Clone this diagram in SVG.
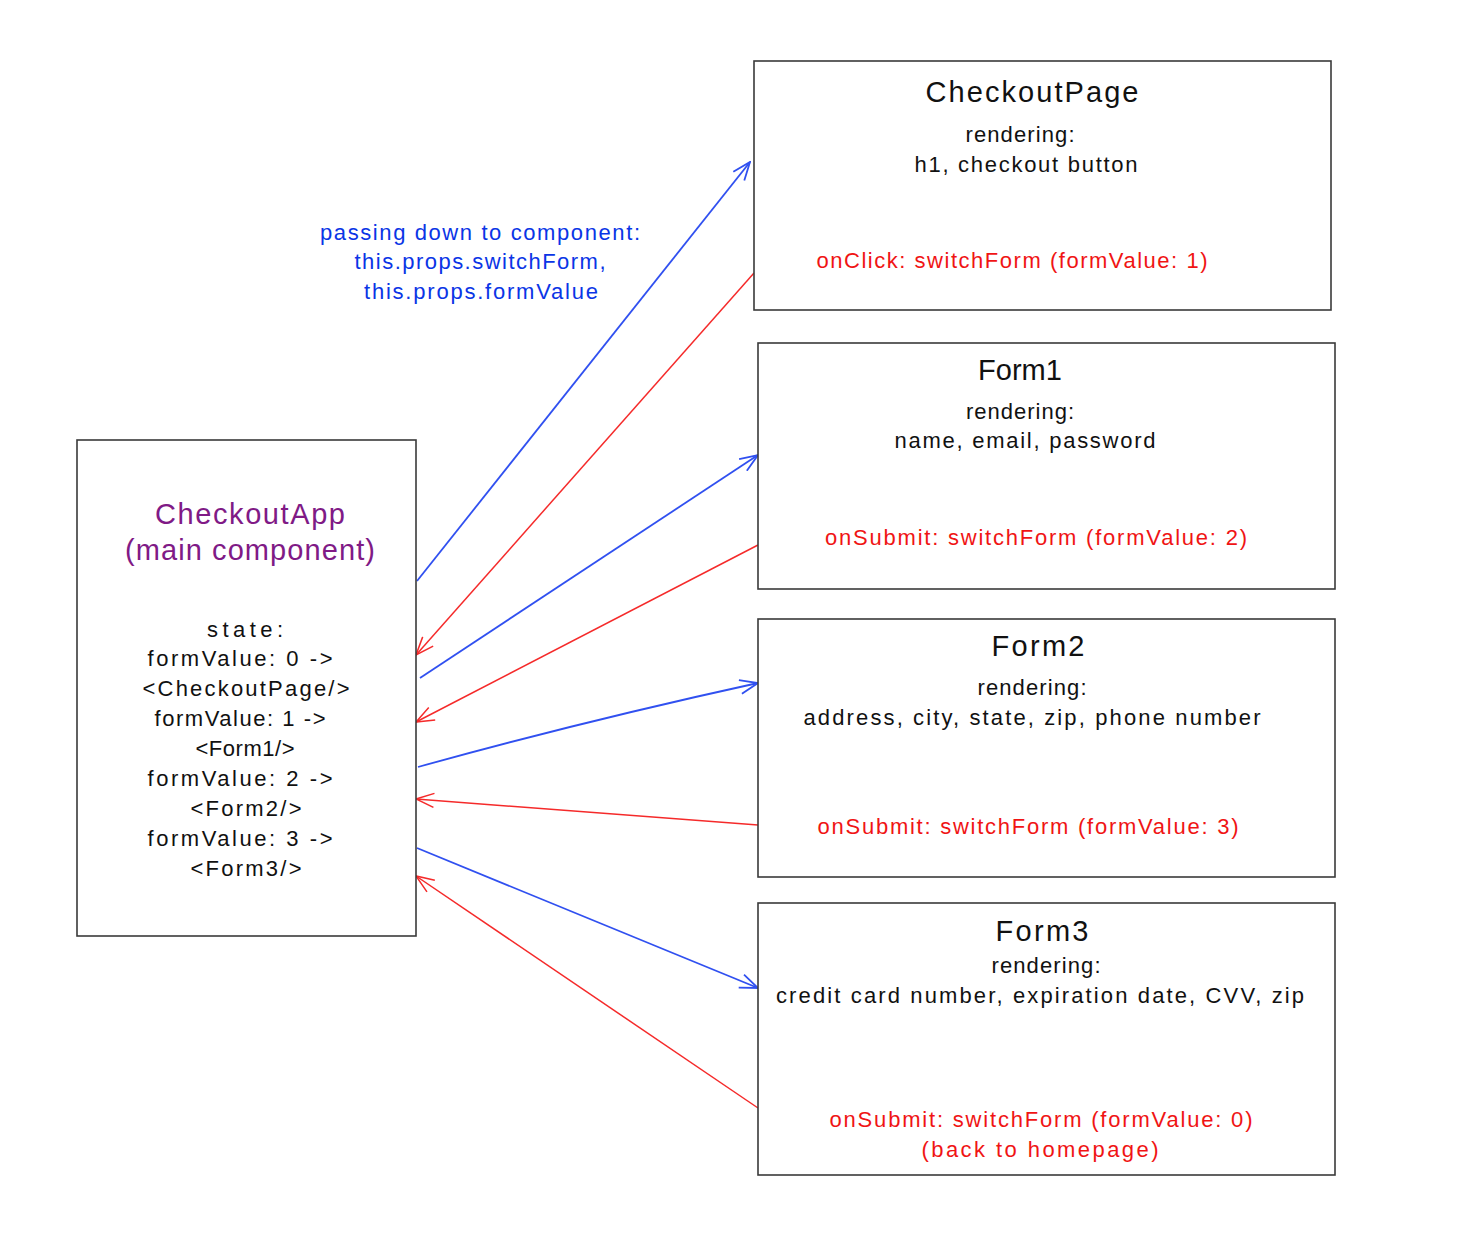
<svg xmlns="http://www.w3.org/2000/svg" width="1464" height="1242" viewBox="0 0 1464 1242">
<style>
.box{fill:#ffffff;stroke:#3a3a3a;stroke-width:1.6}
.t{font-family:"Liberation Sans","DejaVu Sans",sans-serif;text-anchor:middle;fill:#111}
.title{font-size:29px}
.body{font-size:22px}
.red{fill:#f01414}
.blue{fill:#0a35e6}
.purple{fill:#801a86}
.ab{stroke:#3050f0;stroke-width:1.8;fill:none}
.ar{stroke:#f52a2a;stroke-width:1.5;fill:none}
</style>
<defs>
<marker id="mb" viewBox="0 0 20 16" refX="19" refY="8" markerWidth="20" markerHeight="16" markerUnits="userSpaceOnUse" orient="auto">
<path d="M1,1 L19,8 L1,15" fill="none" stroke="#3050f0" stroke-width="1.8"/>
</marker>
<marker id="mr" viewBox="0 0 20 16" refX="19" refY="8" markerWidth="20" markerHeight="16" markerUnits="userSpaceOnUse" orient="auto">
<path d="M1,1 L19,8 L1,15" fill="none" stroke="#f52a2a" stroke-width="1.5"/>
</marker>
</defs>
<rect width="1464" height="1242" fill="#ffffff"/>

<g id="connectors">
<path class="ab" d="M417,581 L750,162" marker-end="url(#mb)"/>
<path class="ar" d="M754,273 L416,655" marker-end="url(#mr)"/>
<path class="ab" d="M420,678 L758,455" marker-end="url(#mb)"/>
<path class="ar" d="M758,545 L416,722" marker-end="url(#mr)"/>
<path class="ab" d="M418,767 Q580,722 758,683" stroke-width="3" marker-end="url(#mb)"/>
<path class="ar" d="M758,825 L416,799" marker-end="url(#mr)"/>
<path class="ab" d="M417,848 L758,988" marker-end="url(#mb)"/>
<path class="ar" d="M758,1108 L416,876" marker-end="url(#mr)"/>
</g>

<g id="label-passing">
<text class="t body blue" x="480" y="240" textLength="320">passing down to component:</text>
<text class="t body blue" x="480" y="269" textLength="251">this.props.switchForm,</text>
<text class="t body blue" x="481" y="299" textLength="234">this.props.formValue</text>
</g>

<g id="checkoutapp">
<rect class="box" x="77" y="440" width="339" height="496"/>
<text class="t title purple" x="250" y="524" textLength="190">CheckoutApp</text>
<text class="t title purple" x="250" y="560" textLength="250">(main component)</text>
<text class="t body" x="245" y="637" textLength="76">state:</text>
<text class="t body" x="240" y="666" textLength="185">formValue: 0 -&gt;</text>
<text class="t body" x="246" y="696" textLength="207">&lt;CheckoutPage/&gt;</text>
<text class="t body" x="240" y="726" textLength="171">formValue: 1 -&gt;</text>
<text class="t body" x="245" y="756" textLength="99">&lt;Form1/&gt;</text>
<text class="t body" x="240" y="786" textLength="185">formValue: 2 -&gt;</text>
<text class="t body" x="246" y="816" textLength="111">&lt;Form2/&gt;</text>
<text class="t body" x="240" y="846" textLength="185">formValue: 3 -&gt;</text>
<text class="t body" x="246" y="876" textLength="111">&lt;Form3/&gt;</text>
</g>

<g id="checkoutpage">
<rect class="box" x="754" y="61" width="577" height="249"/>
<text class="t title" x="1032" y="102" textLength="213">CheckoutPage</text>
<text class="t body" x="1020" y="142" textLength="109">rendering:</text>
<text class="t body" x="1026" y="172" textLength="223">h1, checkout button</text>
<text class="t body red" x="1012" y="268" textLength="391">onClick: switchForm (formValue: 1)</text>
</g>

<g id="form1">
<rect class="box" x="758" y="343" width="577" height="246"/>
<text class="t title" x="1020" y="380">Form1</text>
<text class="t body" x="1020" y="419" textLength="108">rendering:</text>
<text class="t body" x="1025" y="448" textLength="261">name, email, password</text>
<text class="t body red" x="1036" y="545" textLength="422">onSubmit: switchForm (formValue: 2)</text>
</g>

<g id="form2">
<rect class="box" x="758" y="619" width="577" height="258"/>
<text class="t title" x="1038" y="656" textLength="93">Form2</text>
<text class="t body" x="1032" y="695" textLength="109">rendering:</text>
<text class="t body" x="1032" y="725" textLength="457">address, city, state, zip, phone number</text>
<text class="t body red" x="1028" y="834" textLength="421">onSubmit: switchForm (formValue: 3)</text>
</g>

<g id="form3">
<rect class="box" x="758" y="903" width="577" height="272"/>
<text class="t title" x="1042" y="941" textLength="93">Form3</text>
<text class="t body" x="1046" y="973" textLength="109">rendering:</text>
<text class="t body" x="1040" y="1003" textLength="528">credit card number, expiration date, CVV, zip</text>
<text class="t body red" x="1041" y="1127" textLength="423">onSubmit: switchForm (formValue: 0)</text>
<text class="t body red" x="1040" y="1157" textLength="237">(back to homepage)</text>
</g>
</svg>
